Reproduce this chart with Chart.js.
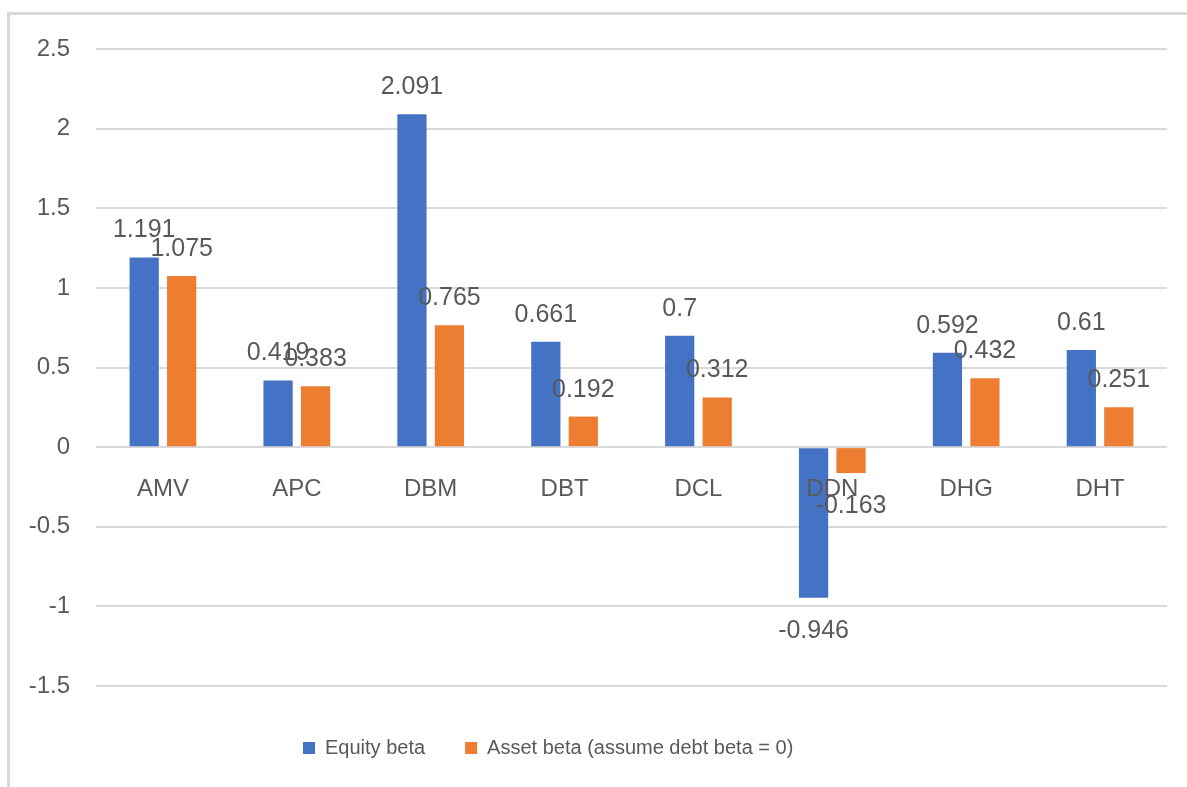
<!DOCTYPE html>
<html>
<head>
<meta charset="utf-8">
<script src="https://cdn.jsdelivr.net/npm/chart.js@4/dist/chart.umd.min.js"></script>
<style>
  html, body { margin: 0; padding: 0; background: #fff; }
  #frame {
    position: absolute; left: 7px; top: 12px; width: 1300px; height: 900px;
    border-left: 3px solid #d9d9d9; border-top: 3px solid #d9d9d9;
  }
  #wrap { position: absolute; left: 0; top: 0; width: 1187px; height: 787px; }
</style>
</head>
<body>
<div id="frame"></div>
<div id="wrap"><canvas id="beta-chart" width="1187" height="787"></canvas></div>
<script>
  const tickers = ['AMV', 'APC', 'DBM', 'DBT', 'DCL', 'DDN', 'DHG', 'DHT'];
  const equityBeta = [1.191, 0.419, 2.091, 0.661, 0.7, -0.946, 0.592, 0.61];
  const assetBeta = [1.075, 0.383, 0.765, 0.192, 0.312, -0.163, 0.432, 0.251];
  const seriesNames = ['Equity beta', 'Asset beta (assume debt beta = 0)'];

  const FONT = '"Liberation Sans", Arial, sans-serif';
  const TEXT = '#595959';

  // value labels above positive bars, below negative ones
  const barLabels = {
    id: 'barLabels',
    afterDatasetsDraw(chart) {
      const ctx = chart.ctx;
      ctx.save();
      ctx.font = '25px ' + FONT;
      ctx.fillStyle = TEXT;
      ctx.textAlign = 'center';
      ctx.textBaseline = 'alphabetic';
      chart.data.datasets.forEach((ds, i) => {
        chart.getDatasetMeta(i).data.forEach((bar, j) => {
          const v = ds.data[j];
          const y = v >= 0 ? bar.y - 20 : bar.y + 40;
          ctx.fillText(String(v), bar.x, y);
        });
      });
      ctx.restore();
    }
  };

  // move the legend where the original sits
  const legendSpot = {
    id: 'legendSpot',
    afterLayout(chart) {
      const lg = chart.legend;
      if (!lg || !lg.lineWidths) return;
      const pad = lg.options.labels.padding;
      const startX = (lg.left + pad + lg.right - lg.lineWidths[0]) / 2;
      const dx = 303 - startX;
      const dy = 748 - (lg.top + pad + 10);
      lg.left += dx; lg.right += dx;
      lg.top += dy; lg.bottom += dy;
    }
  };

  new Chart(document.getElementById('beta-chart').getContext('2d'), {
    type: 'bar',
    data: {
      labels: tickers,
      datasets: [{
        label: seriesNames[0],
        data: equityBeta,
        backgroundColor: '#4472C4',
        categoryPercentage: 0.56,
        barPercentage: 0.78
      }, {
        label: seriesNames[1],
        data: assetBeta,
        backgroundColor: '#ED7D31',
        categoryPercentage: 0.56,
        barPercentage: 0.78
      }]
    },
    options: {
      responsive: false,
      animation: false,
      layout: { padding: { left: 0, right: 20, top: 49, bottom: 31 } },
      plugins: {
        legend: {
          position: 'bottom',
          labels: {
            boxWidth: 12,
            boxHeight: 12,
            padding: 40,
            color: TEXT,
            font: { family: FONT, size: 20 }
          }
        },
        tooltip: { enabled: false }
      },
      scales: {
        x: {
          position: { y: 0 },
          grid: { display: false, drawTicks: false },
          border: { display: false },
          ticks: {
            z: 1,
            padding: 28,
            color: TEXT,
            font: { family: FONT, size: 24 }
          }
        },
        y: {
          min: -1.5,
          max: 2.5,
          afterFit(scale) { scale.width = 96; },
          grid: { color: '#d9d9d9', lineWidth: 2, drawTicks: false },
          border: { display: false },
          ticks: {
            stepSize: 0.5,
            padding: 26,
            color: TEXT,
            font: { family: FONT, size: 24 },
            callback: v => String(+v.toFixed(2))
          }
        }
      }
    },
    plugins: [barLabels, legendSpot]
  });
</script>
</body>
</html>
